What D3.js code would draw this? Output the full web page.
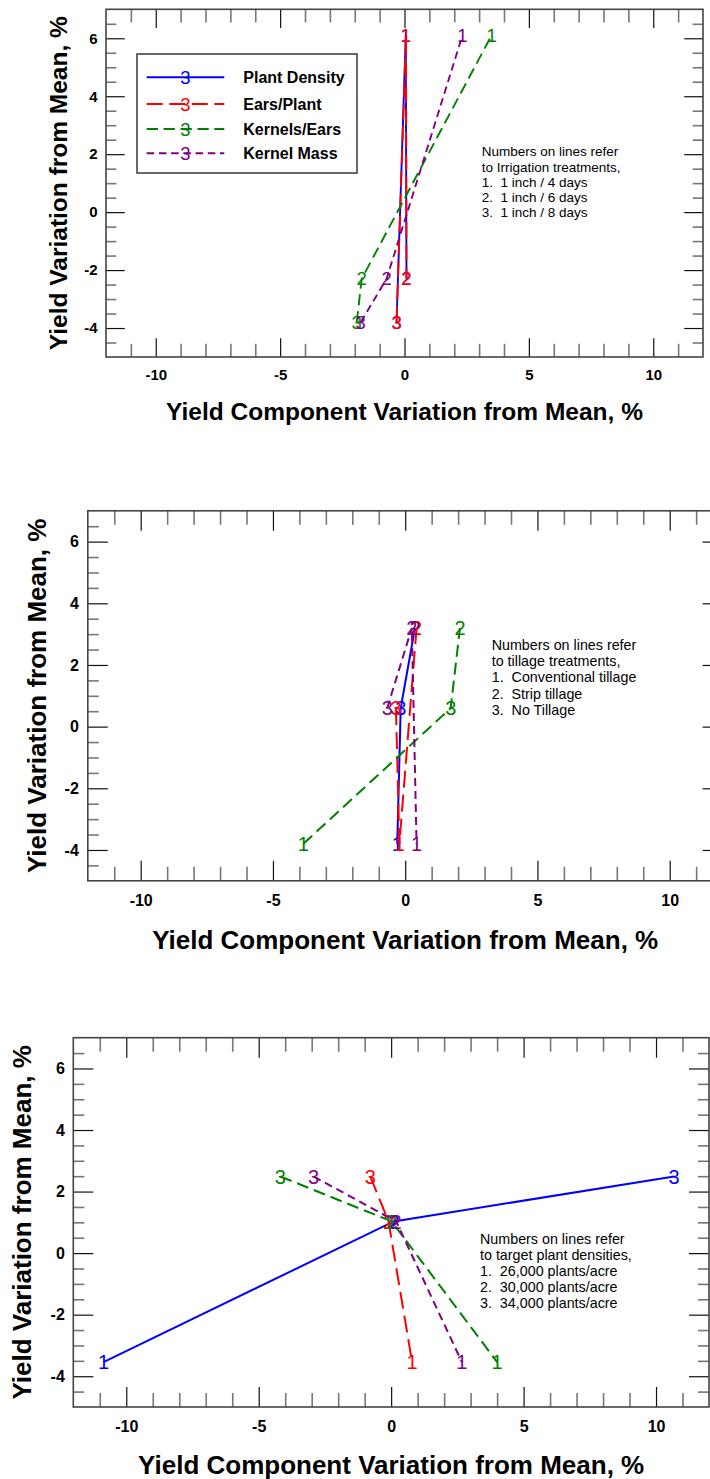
<!DOCTYPE html>
<html><head><meta charset="utf-8">
<script src="https://cdn.jsdelivr.net/npm/d3@7"></script>
<style>
body{margin:0;background:#fff}
svg{display:block}
text{font-family:"Liberation Sans",Arial,Helvetica,sans-serif}
</style></head>
<body><svg id="c" width="710" height="1479"></svg>
<script>
// ---------- data ----------
const seriesNames = ["Plant Density", "Ears/Plant", "Kernels/Ears", "Kernel Mass"];
const seriesColors = ["#0000ff", "#ff0000", "#008000", "#800080"];
const seriesDash = [null, "17,7", "12,6", "8,5"];
const treatmentLabels = ["1", "2", "3"];
const xTickValues = [-10, -5, 0, 5, 10];
const yTickValues = [-4, -2, 0, 2, 4, 6];
const xMinorValues = [-11,-9,-8,-7,-6,-4,-3,-2,-1,1,2,3,4,6,7,8,9,11];
const yMinorValues = [-4.5,-3.5,-3,-2.5,-1.5,-1,-0.5,0.5,1,1.5,2.5,3,3.5,4.5,5,5.5,6.5];
const xTitle = "Yield Component Variation from Mean, %";
const yTitle = "Yield Variation from Mean, %";

// Panel 1: irrigation
const irrigationYield = [6.1, -2.3, -3.8];
const irrigationPlantDensity = [0.05, 0.08, -0.32];
const irrigationEarsPlant = [0.06, 0.08, -0.32];
const irrigationKernelsEars = [3.5, -1.72, -1.92];
const irrigationKernelMass = [2.33, -0.72, -1.76];
const irrigationNote = ["Numbers on lines refer", "to Irrigation treatments,", "1.  1 inch / 4 days", "2.  1 inch / 6 days", "3.  1 inch / 8 days"];

// Panel 2: tillage
const tillageYield = [-3.8, 3.2, 0.6];
const tillagePlantDensity = [-0.30, 0.37, -0.17];
const tillageEarsPlant = [-0.22, 0.43, -0.35];
const tillageKernelsEars = [-3.85, 2.07, 1.72];
const tillageKernelMass = [0.43, 0.25, -0.68];
const tillageNote = ["Numbers on lines refer", "to tillage treatments,", "1.  Conventional tillage", "2.  Strip tillage", "3.  No Tillage"];

// Panel 3: target plant density
const densityYield = [-3.54, 1.03, 2.49];
const densityPlantDensity = [-10.86, 0.1, 10.68];
const densityEarsPlant = [0.79, -0.1, -0.79];
const densityKernelsEars = [4.0, 0.02, -4.18];
const densityKernelMass = [2.67, 0.19, -2.93];
const densityNote = ["Numbers on lines refer", "to target plant densities,", "1.  26,000 plants/acre", "2.  30,000 plants/acre", "3.  34,000 plants/acre"];

// ---------- drawing ----------
const svg = d3.select("#c");
const fmt = d => String(d);

function panel(cfg) {
  const x = d3.scaleLinear().domain([-12, 12]).range([cfg.left, cfg.right]);
  const y = d3.scaleLinear().domain([-5, 7]).range([cfg.bottom, cfg.top]);
  const g = svg.append("g");
  const s = cfg.s;

  function styleAxis(sel) { sel.select(".domain").remove(); sel.attr("font-family", null).attr("font-size", null); }
  const majorLen = 20 * s, xMinorLen = 14 * s, yMinorLen = 11 * s;
  const axes = [
    [d3.axisBottom(x).tickValues(xTickValues).tickSize(-majorLen).tickPadding(cfg.xPad).tickFormat(fmt), `translate(0,${cfg.bottom})`, true],
    [d3.axisBottom(x).tickValues(xMinorValues).tickSize(-xMinorLen).tickFormat(""), `translate(0,${cfg.bottom})`, false],
    [d3.axisTop(x).tickValues(xTickValues).tickSize(-majorLen).tickFormat(""), `translate(0,${cfg.top})`, false],
    [d3.axisTop(x).tickValues(xMinorValues).tickSize(-xMinorLen).tickFormat(""), `translate(0,${cfg.top})`, false],
    [d3.axisLeft(y).tickValues(yTickValues).tickSize(-majorLen).tickPadding(cfg.yPad).tickFormat(fmt), `translate(${cfg.left},0)`, true],
    [d3.axisLeft(y).tickValues(yMinorValues).tickSize(-yMinorLen).tickFormat(""), `translate(${cfg.left},0)`, false],
    [d3.axisRight(y).tickValues(yTickValues).tickSize(-majorLen).tickFormat(""), `translate(${cfg.right},0)`, false],
    [d3.axisRight(y).tickValues(yMinorValues).tickSize(-yMinorLen).tickFormat(""), `translate(${cfg.right},0)`, false]
  ];
  axes.forEach(([ax, tr, labeled], i) => {
    const a = g.append("g").attr("transform", tr).call(ax).call(styleAxis);
    const isMajor = [0, 2, 4, 6].includes(i);
    a.selectAll("line").attr("stroke", isMajor ? "#111" : "#777").attr("stroke-width", isMajor ? 1.2 : 1.6);
    if (labeled) a.selectAll("text").attr("font-weight", "bold").attr("font-size", cfg.tickFont).attr("fill", "#000");
  });

  g.append("rect").attr("x", cfg.left).attr("y", cfg.top)
    .attr("width", cfg.right - cfg.left).attr("height", cfg.bottom - cfg.top)
    .attr("fill", "none").attr("stroke", "#444").attr("stroke-width", 1.6);

  g.append("text").attr("x", (cfg.left + cfg.right) / 2).attr("y", cfg.xTitleY)
    .attr("text-anchor", "middle").attr("font-weight", "bold").attr("font-size", cfg.titleFont).text(xTitle);
  g.append("text").attr("transform", `translate(${cfg.yTitleX},${(cfg.top + cfg.bottom) / 2}) rotate(-90)`)
    .attr("text-anchor", "middle").attr("dy", "0.36em").attr("font-weight", "bold").attr("font-size", cfg.titleFont).text(yTitle);

  const line = d3.line().x(d => x(d.x)).y(d => y(d.y));
  cfg.series.forEach((xs, si) => {
    const pts = xs.map((v, i) => ({ x: v, y: cfg.yieldVals[i], lab: treatmentLabels[i] }));
    const sorted = pts.slice().sort((a, b) => a.x - b.x);
    g.append("path").attr("d", line(sorted)).attr("fill", "none")
      .attr("stroke", seriesColors[si]).attr("stroke-width", 2 * s)
      .attr("stroke-dasharray", seriesDash[si] ? seriesDash[si].split(",").map(v => +v * s).join(",") : null);
    g.selectAll(null).data(pts).enter().append("text")
      .attr("x", d => x(d.x)).attr("y", d => y(d.y)).attr("dy", "0.36em")
      .attr("text-anchor", "middle").attr("font-size", cfg.labFont).attr("fill", seriesColors[si]).text(d => d.lab);
  });

  g.append("text").attr("x", cfg.noteX).attr("y", cfg.noteY).attr("font-size", cfg.noteFont)
    .style("white-space", "pre")
    .selectAll("tspan").data(cfg.note).enter().append("tspan")
    .attr("x", cfg.noteX).attr("dy", (d, i) => i === 0 ? 0 : cfg.noteStep).text(d => d);

  if (cfg.legend) {
    const L = cfg.legend;
    g.append("rect").attr("x", L.x).attr("y", L.y).attr("width", L.w).attr("height", L.h)
      .attr("fill", "#fff").attr("stroke", "#444").attr("stroke-width", 1.6);
    seriesNames.forEach((name, si) => {
      const yy = L.rowY[si];
      g.append("line").attr("x1", L.lineX1).attr("x2", L.lineX2).attr("y1", yy).attr("y2", yy)
        .attr("stroke", seriesColors[si]).attr("stroke-width", 2 * s)
        .attr("stroke-dasharray", seriesDash[si] ? seriesDash[si].split(",").map(v => +v * s).join(",") : null);
      g.append("text").attr("x", (L.lineX1 + L.lineX2) / 2).attr("y", yy).attr("dy", "0.36em")
        .attr("text-anchor", "middle").attr("font-size", cfg.labFont).attr("fill", seriesColors[si]).text("3");
      g.append("text").attr("x", L.textX).attr("y", yy).attr("dy", "0.36em")
        .attr("font-size", 16).attr("font-weight", "bold").text(name);
    });
  }
}

panel({
  left: 106, right: 703, top: 9.3, bottom: 357, s: 0.94,
  xPad: 12.5, yPad: 8.5, tickFont: 15, titleFont: 24.5, labFont: 18.5,
  xTitleY: 420, yTitleX: 58.5,
  yieldVals: irrigationYield,
  series: [irrigationPlantDensity, irrigationEarsPlant, irrigationKernelsEars, irrigationKernelMass],
  note: irrigationNote, noteX: 481.7, noteY: 156.4, noteStep: 15.1, noteFont: 13.5,
  legend: { x: 137, y: 54, w: 220, h: 119, lineX1: 146.7, lineX2: 224.3, textX: 243.3, rowY: [77.3, 104, 129, 153.3] }
});
panel({
  left: 87.8, right: 722.6, top: 510.8, bottom: 880.8, s: 1,
  xPad: 14, yPad: 9, tickFont: 16, titleFont: 26, labFont: 20,
  xTitleY: 949, yTitleX: 36.7,
  yieldVals: tillageYield,
  series: [tillagePlantDensity, tillageEarsPlant, tillageKernelsEars, tillageKernelMass],
  note: tillageNote, noteX: 491.7, noteY: 650, noteStep: 16.2, noteFont: 14.3
});
panel({
  left: 73.3, right: 709, top: 1037.7, bottom: 1407, s: 1,
  xPad: 14, yPad: 8.5, tickFont: 16, titleFont: 26, labFont: 20,
  xTitleY: 1474, yTitleX: 21.3,
  yieldVals: densityYield,
  series: [densityPlantDensity, densityEarsPlant, densityKernelsEars, densityKernelMass],
  note: densityNote, noteX: 480, noteY: 1244, noteStep: 16.1, noteFont: 14.3
});
</script></body></html>
